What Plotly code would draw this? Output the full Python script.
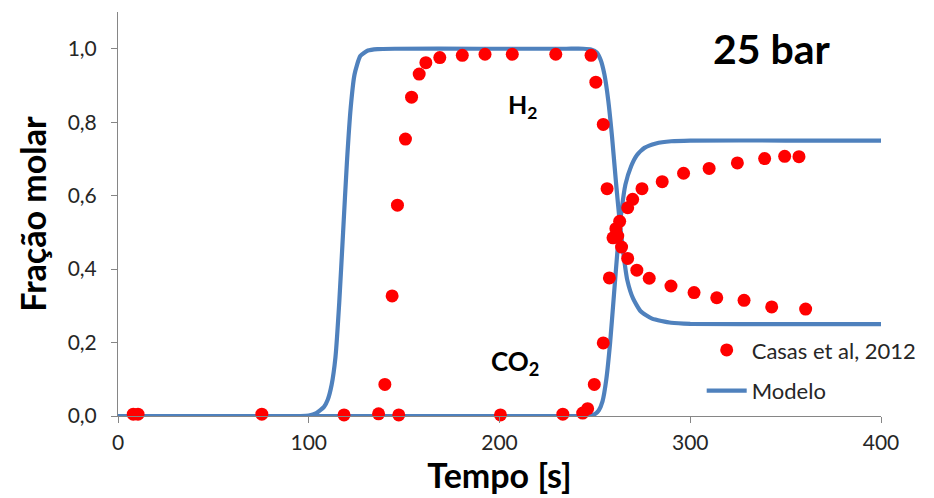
import plotly.graph_objects as go

# Experimental breakthrough data (Casas et al, 2012), 25 bar
exp_t = [8, 10.5, 75.4, 118.5, 136.6, 147.2, 200.5, 233.2, 243.6, 246.2,
         139.9, 143.7, 146.5, 150.7, 153.9, 157.9, 161.4, 168.7, 180.5, 192.4,
         206.7, 229.5, 248.0, 250.5, 254.4, 256.4,
         249.7, 254.4, 257.6,
         259.5, 261.0, 262.0, 263.0, 264.0,
         267.2, 269.8, 274.7, 285.3, 296.5, 309.9, 324.7, 339.0, 349.5, 357.0,
         267.2, 272.0, 278.5, 289.9, 302.0, 313.9, 328.2, 342.7, 360.5]
exp_y = [0.005, 0.005, 0.005, 0.003, 0.006, 0.003, 0.003, 0.005, 0.008, 0.02,
         0.086, 0.327, 0.574, 0.754, 0.868, 0.931, 0.962, 0.976, 0.982, 0.985,
         0.985, 0.985, 0.982, 0.909, 0.794, 0.619,
         0.086, 0.199, 0.376,
         0.485, 0.510, 0.490, 0.530, 0.460,
         0.567, 0.590, 0.619, 0.638, 0.661, 0.674, 0.689, 0.701, 0.707, 0.706,
         0.429, 0.397, 0.375, 0.354, 0.336, 0.322, 0.315, 0.297, 0.291]

# Model curves (H2 and CO2 molar fractions)
h2_t = [0, 50, 95, 100, 104, 108, 110, 112, 114, 116, 118, 120, 122, 124, 127, 131, 136,
        145, 190, 235, 244, 248, 251, 253, 255, 257, 259, 261, 263, 265, 267, 270, 274,
        280, 290, 300, 350, 400]
h2_y = [0, 0, 0, 0.001, 0.008, 0.025, 0.045, 0.085, 0.16, 0.31, 0.50, 0.69, 0.84, 0.93, 0.98,
        0.995, 0.999, 1.0, 1.0, 1.0, 1.0, 0.998, 0.99, 0.97, 0.93, 0.86, 0.76, 0.64, 0.53,
        0.44, 0.37, 0.32, 0.285, 0.265, 0.254, 0.251, 0.25, 0.25]
co2_t = [0, 60, 120, 180, 230, 242, 246, 250, 252, 254, 256, 258, 260, 262, 264, 266, 269,
         272, 276, 282, 290, 300, 350, 400]
co2_y = [0, 0, 0, 0, 0, 0, 0.001, 0.005, 0.015, 0.04, 0.10, 0.20, 0.33, 0.46, 0.56, 0.63,
         0.68, 0.71, 0.73, 0.742, 0.748, 0.75, 0.75, 0.75]

x_ticks = [0, 100, 200, 300, 400]
y_ticks = [0.0, 0.2, 0.4, 0.6, 0.8, 1.0]

BLUE = "#4F81BD"
RED = "#FF0000"
FONT = "Lato"
TEXT = "#262626"

fig = go.Figure()
fig.add_trace(go.Scatter(x=h2_t, y=h2_y, mode="lines", name="Modelo",
                         line=dict(color=BLUE, width=4.2, shape="spline", smoothing=0.5),
                         legendgroup="m", legendrank=2, cliponaxis=False))
fig.add_trace(go.Scatter(x=co2_t, y=co2_y, mode="lines", name="Modelo",
                         line=dict(color=BLUE, width=4.2, shape="spline", smoothing=0.5),
                         legendgroup="m", showlegend=False, cliponaxis=False))
fig.add_trace(go.Scatter(x=exp_t, y=exp_y, mode="markers", name="Casas et al, 2012",
                         marker=dict(color=RED, size=13, line=dict(width=0)),
                         legendgroup="c", legendrank=1, cliponaxis=False))

fig.add_annotation(x=343, y=1.0, xref="x", yref="y", text="<b>25 bar</b>",
                   showarrow=False, font=dict(family=FONT, size=41, color="black"))
fig.add_annotation(x=212, y=0.845, xref="x", yref="y", text="<b>H<sub>2</sub></b>",
                   showarrow=False, font=dict(family=FONT, size=25, color="black"))
fig.add_annotation(x=208, y=0.145, xref="x", yref="y", text="<b>CO<sub>2</sub></b>",
                   showarrow=False, font=dict(family=FONT, size=26, color="black"))

fig.update_layout(
    width=934, height=498,
    margin=dict(l=118, r=51, t=12, b=82),
    paper_bgcolor="white", plot_bgcolor="white",
    separators=",.",
    font=dict(family=FONT, color=TEXT),
    showlegend=True,
    legend=dict(x=0.765, y=0.215, xanchor="left", yanchor="top",
                bgcolor="rgba(0,0,0,0)", font=dict(family=FONT, size=22, color=TEXT),
                traceorder="grouped", tracegroupgap=9, itemwidth=40),
    xaxis=dict(range=[0, 400], tickvals=x_ticks, ticks="outside", ticklen=6,
               tickcolor="#868686", showline=True, linecolor="#868686", linewidth=1,
               showgrid=False, zeroline=False, ticklabelstandoff=2,
               tickfont=dict(size=21, color=TEXT),
               title=dict(text="<b>Tempo [s]</b>", font=dict(size=34, color="black"),
                          standoff=0)),
    yaxis=dict(range=[0, 1.1], tickvals=y_ticks, tickformat=".1f", ticks="outside",
               ticklen=6, tickcolor="#868686", showline=True, linecolor="#868686",
               linewidth=1, showgrid=False, zeroline=False, ticklabelstandoff=10,
               tickfont=dict(size=21, color=TEXT),
               title=dict(text="<b>Fração molar</b>", font=dict(size=34, color="black"),
                          standoff=10)),
)

fig.write_html("out.html")
